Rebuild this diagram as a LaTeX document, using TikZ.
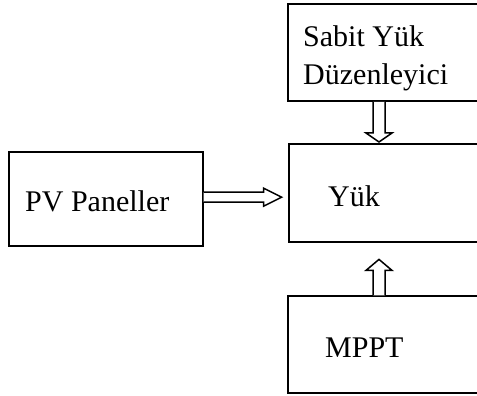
\documentclass[tikz,border=0pt]{standalone}
\usepackage{fontspec}
\setmainfont{Liberation Serif}
\usetikzlibrary{calc}
\tikzset{
  box/.style={draw, line width=1.6pt, anchor=south west, inner sep=0pt},
  lbl/.style={anchor=base west, inner sep=0pt, font=\fontsize{30}{30}\selectfont},
  blockarrow/.style={draw, line width=1.5pt, line join=miter, fill=white}
}
\begin{document}
\begin{tikzpicture}[x=1pt,y=1pt]
\useasboundingbox (0,0) rectangle (477,396);
\clip (0,0) rectangle (477,396);
% blocks (running off the right edge)
\node[box, minimum width=220pt, minimum height=97pt] (reg) at (287,294) {};
\node[box, minimum width=220pt, minimum height=98pt] (load) at (288,153) {};
\node[box, minimum width=220pt, minimum height=97pt] (mppt) at (287,2) {};
\node[box, minimum width=194pt, minimum height=94pt] (pv) at (8,149) {};
% labels
\node[lbl] (t1) at (303,349) {Sabit Yük};
\node[lbl] (t2) at (303,311) {Düzenleyici};
\node[lbl] (t3) at (328,189) {Yük};
\node[lbl] (t4) at (325,38) {MPPT};
\node[lbl] (t5) at (25,184) {PV Paneller};
% block arrows
\coordinate (h0) at ($(pv.east)+(0,7)$);
\draw[blockarrow] (h0) -- ++(60,0) -- ++(0,4) -- ++(18,-9) -- ++(-18,-9) -- ++(0,4) -- ++(-60,0);
\coordinate (d0) at ($(reg.south west)+(86,0)$);
\draw[blockarrow] (d0) -- ++(0,-31) -- ++(-7,0) -- ++(13,-9) -- ++(13,9) -- ++(-7,0) -- ++(0,31);
\coordinate (u0) at ($(mppt.north west)+(86,0)$);
\draw[blockarrow] (u0) -- ++(0,25) -- ++(-7,0) -- ++(13,11) -- ++(13,-11) -- ++(-7,0) -- ++(0,-25);
\end{tikzpicture}
\end{document}
